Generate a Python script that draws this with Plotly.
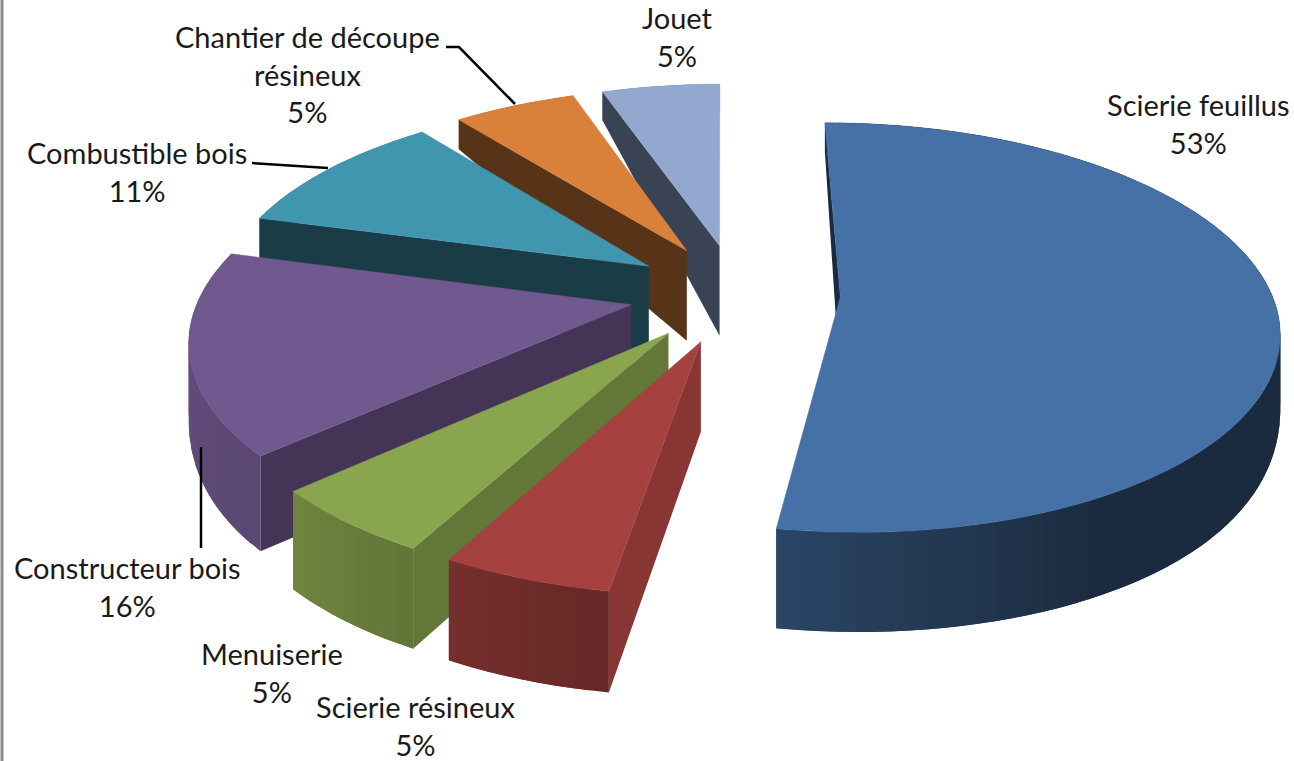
import numpy as np
import plotly.graph_objects as go

# ---- data (clockwise from the back of the pie) ----
categories = ["Scierie feuillus", "Scierie résineux", "Menuiserie", "Constructeur bois",
              "Combustible bois", "Chantier de découpe<br>résineux", "Jouet"]
shown_percent = [53, 5, 5, 16, 11, 5, 5]
shares = [52.64, 5.3, 5.4, 15.9, 10.1, 5.4, 5.2]
explode = [0.24, 0.25, 0.25, 0.25, 0.25, 0.25, 0.25]
top_colors = ["#4671A6", "#A5423F", "#89A54E", "#71588F", "#4196AF", "#D9803B", "#92A8CF"]
radial_shade = [0.38, 0.82, 0.72, 0.60, 0.40, 0.40, 0.40]
draw_order = [6, 5, 4, 3, 2, 1, 0]
label_xy = [(1198, 123), (415, 725), (272, 672), (127, 586), (137, 171), (307, 74), (677, 36)]

# ---- projection of the tilted pie ----
CX, CY, AX, BY, K, START = 737, 293, 431, 199, 0.15, -0.3


def project(x, y):
    s = 1 / (1 - K * y)
    return CX + AX * x * s, CY + BY * y * s


def rim_drop(y):
    return 65 + 38 * np.tanh(1.6 * (y - 0.05))


def shade(hex_color, f):
    r, g, b = (int(hex_color[i:i + 2], 16) for i in (1, 3, 5))
    return f"rgb({r * f:.0f},{g * f:.0f},{b * f:.0f})"


def poly(fig, xs, ys, color, name, width=0.0):
    fig.add_trace(go.Scatter(x=list(xs), y=list(ys), mode="lines", fill="toself", fillcolor=color,
                             line=dict(color=color, width=width), name=name,
                             hoverinfo="skip", showlegend=False))


total = sum(shares)
edges = START + np.concatenate([[0], np.cumsum(shares)]) / total * 360

fig = go.Figure()
for i in draw_order:
    t0, t1 = edges[i], edges[i + 1]
    mid = np.radians((t0 + t1) / 2)
    ox, oy = explode[i] * np.sin(mid), -explode[i] * np.cos(mid)
    th = np.radians(np.linspace(t0, t1, max(int(t1 - t0) * 2, 12) + 1))
    wx, wy = ox + np.sin(th), oy - np.cos(th)
    rx, ry = project(wx, wy)
    drop = rim_drop(wy)
    ax, ay = project(ox, oy)
    c = top_colors[i]
    # outer wall, shaded strips that overlap the next one so no seams show
    step = 4
    for j in range(0, len(th) - 1, step):
        k = min(j + 2 * step, len(th) - 1)
        deg = np.degrees(th[j]) % 360
        f = np.interp(deg, [0, 150, 188, 205, 225, 250, 360], [0.38, 0.38, 0.61, 0.70, 0.80, 0.85, 0.85])
        xs = np.r_[rx[j:k + 1], rx[j:k + 1][::-1]]
        ys = np.r_[ry[j:k + 1], (ry + drop)[j:k + 1][::-1]]
        poly(fig, xs, ys, shade(c, f), categories[i])
    # radial wall on the starting edge
    poly(fig, [rx[0], ax, ax, rx[0]], [ry[0], ay, ay + 90, ry[0] + drop[0]],
         shade(c, radial_shade[i]), categories[i])
    # top face
    poly(fig, np.r_[ax, rx, ax], np.r_[ay, ry, ay], c, categories[i], width=0.5)

annotations = [dict(x=x, y=y, xref="x", yref="y", text=f"{n}<br>{p}%", showarrow=False,
                    xanchor="center", yanchor="middle",
                    font=dict(family="Lato", size=29, color="#1a1a1a"))
               for n, p, (x, y) in zip(categories, shown_percent, label_xy)]

leader = dict(color="black", width=2.5)
shapes = [
    dict(type="path", path="M 446 47 L 459 47 L 515 104", line=leader, xref="x", yref="y"),
    dict(type="line", x0=252, y0=163, x1=328, y1=168, line=leader, xref="x", yref="y"),
    dict(type="line", x0=201, y0=447, x1=201, y1=548, line=leader, xref="x", yref="y"),
    dict(type="line", x0=2, y0=0, x1=2, y1=761, line=dict(color="#8c8c8c", width=3), xref="x", yref="y"),
]

fig.update_layout(width=1294, height=761, margin=dict(l=0, r=0, t=0, b=0),
                  paper_bgcolor="white", plot_bgcolor="white",
                  xaxis=dict(range=[0, 1294], visible=False, fixedrange=True),
                  yaxis=dict(range=[761, 0], visible=False, fixedrange=True),
                  annotations=annotations, shapes=shapes, showlegend=False)
fig.write_html("out.html", config={"displayModeBar": False},
               post_script="document.body.style.margin='0';"
                           "var s=document.createElement('style');"
                           "s.textContent='text{font-variant-ligatures:none}';"
                           "document.head.appendChild(s);")
